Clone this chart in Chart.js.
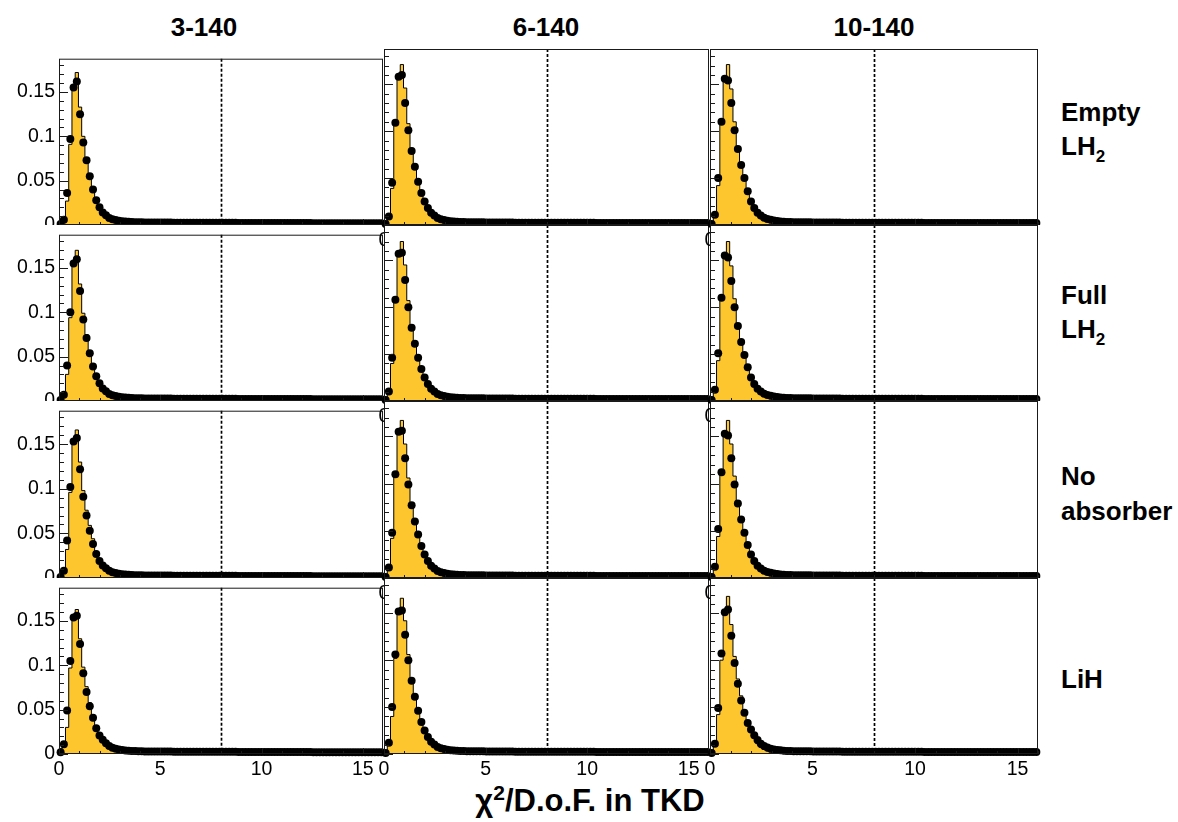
<!DOCTYPE html>
<html><head><meta charset="utf-8">
<script src="https://cdn.jsdelivr.net/npm/chart.js@4.4.1/dist/chart.umd.min.js"></script>
<style>
html,body{margin:0;padding:0;background:#fff;}
body{width:1178px;height:822px;position:relative;overflow:hidden;font-family:"Liberation Sans",Arial,sans-serif;}
canvas{position:absolute;}
.lbl{position:absolute;font-weight:bold;color:#000;white-space:nowrap;line-height:1;}
.ttl{font-size:26px;transform:translateX(-50%);}
.row{font-size:26px;left:1061px;}
.sub{font-size:17px;position:relative;top:7px;}
.axis{font-size:31px;transform:translateX(-50%);}
.sup{font-size:21px;position:relative;top:-11px;}
</style></head><body>
<div class="lbl ttl" style="left:204px;top:14px">3-140</div>
<div class="lbl ttl" style="left:546px;top:14px">6-140</div>
<div class="lbl ttl" style="left:874px;top:14px">10-140</div>
<div class="lbl row" style="top:99px">Empty</div>
<div class="lbl row" style="top:133px">LH<span class="sub">2</span></div>
<div class="lbl row" style="top:282px">Full</div>
<div class="lbl row" style="top:316px">LH<span class="sub">2</span></div>
<div class="lbl row" style="top:463px">No</div>
<div class="lbl row" style="top:498px">absorber</div>
<div class="lbl row" style="top:666px">LiH</div>
<div class="lbl axis" style="left:590px;top:784.8px">χ<span class="sup">2</span>/D.o.F. in TKD</div>
<script>
// ---- tick labels / categories ----
const columnTitles = ['3-140', '6-140', '10-140'];
const rowNames = ['Empty LH2', 'Full LH2', 'No absorber', 'LiH'];
const xTickValues = [0, 5, 10, 15];
const yTickValues = [0, 0.05, 0.1, 0.15];
const X_MIN = 0, X_MAX = 16, BIN_WIDTH = 0.16, Y_MAX = 0.1876;
const CUT_VALUE = 8;

// ---- series values (bins 0..25 per panel; data = points, mc = filled histogram) ----
const emptyData3  = [0.001,0.006,0.036,0.097,0.155,0.162,0.125,0.093,0.073,0.055,0.040,0.028,0.020,0.014,0.011,0.008,0.0065,0.0055,0.0048,0.0043,0.0039,0.0036,0.0034,0.0032,0.0031,0.003];
const emptyMC3    = [0.006,0.009,0.027,0.091,0.156,0.172,0.133,0.100,0.076,0.057,0.042,0.030,0.021,0.014,0.009,0.006,0.004,0.0026,0.0017,0.0011,0.0008,0.0006,0.0004,0.0003,0.0003,0.0002];
const emptyData6  = [0.001,0.009,0.045,0.109,0.158,0.160,0.130,0.101,0.079,0.062,0.046,0.034,0.025,0.018,0.013,0.010,0.0075,0.0062,0.0053,0.0046,0.0041,0.0037,0.0034,0.0032,0.0031,0.003];
const emptyMC6    = [0.004,0.011,0.039,0.107,0.160,0.171,0.146,0.108,0.082,0.063,0.047,0.035,0.025,0.017,0.011,0.007,0.0048,0.0032,0.0021,0.0014,0.001,0.0007,0.0005,0.0004,0.0003,0.0002];
const emptyData10 = [0.001,0.011,0.050,0.110,0.156,0.154,0.130,0.101,0.081,0.064,0.050,0.036,0.025,0.018,0.013,0.010,0.0078,0.0064,0.0055,0.0047,0.0042,0.0038,0.0035,0.0033,0.0031,0.003];
const emptyMC10   = [0.004,0.012,0.042,0.110,0.156,0.171,0.145,0.110,0.083,0.065,0.050,0.037,0.026,0.018,0.012,0.008,0.0052,0.0035,0.0023,0.0015,0.001,0.0007,0.0005,0.0004,0.0003,0.0002];

const fullData3   = [0.001,0.007,0.040,0.100,0.155,0.160,0.124,0.092,0.071,0.054,0.039,0.028,0.020,0.014,0.011,0.008,0.0065,0.0055,0.0048,0.0043,0.0039,0.0036,0.0034,0.0032,0.0031,0.003];
const fullMC3     = [0.006,0.010,0.030,0.094,0.157,0.170,0.132,0.099,0.075,0.056,0.041,0.029,0.020,0.013,0.009,0.006,0.004,0.0026,0.0017,0.0011,0.0008,0.0006,0.0004,0.0003,0.0003,0.0002];
const fullData6   = [0.001,0.010,0.046,0.108,0.157,0.158,0.129,0.100,0.078,0.061,0.046,0.034,0.025,0.018,0.013,0.010,0.0075,0.0062,0.0053,0.0046,0.0041,0.0037,0.0034,0.0032,0.0031,0.003];
const fullMC6     = [0.004,0.011,0.040,0.106,0.159,0.170,0.145,0.107,0.081,0.062,0.046,0.034,0.024,0.017,0.011,0.007,0.0048,0.0032,0.0021,0.0014,0.001,0.0007,0.0005,0.0004,0.0003,0.0002];
const fullData10  = [0.001,0.012,0.051,0.110,0.155,0.153,0.128,0.100,0.080,0.063,0.049,0.036,0.025,0.018,0.013,0.010,0.0078,0.0064,0.0055,0.0047,0.0042,0.0038,0.0035,0.0033,0.0031,0.003];
const fullMC10    = [0.004,0.013,0.043,0.110,0.155,0.170,0.144,0.109,0.082,0.064,0.049,0.036,0.026,0.018,0.012,0.008,0.0052,0.0035,0.0023,0.0015,0.001,0.0007,0.0005,0.0004,0.0003,0.0002];

const noAbsData3  = [0.001,0.008,0.042,0.102,0.153,0.157,0.122,0.091,0.070,0.053,0.038,0.027,0.019,0.014,0.011,0.008,0.0065,0.0055,0.0048,0.0043,0.0039,0.0036,0.0034,0.0032,0.0031,0.003];
const noAbsMC3    = [0.006,0.011,0.032,0.096,0.155,0.166,0.130,0.098,0.076,0.059,0.044,0.030,0.020,0.013,0.009,0.006,0.004,0.0026,0.0017,0.0011,0.0008,0.0006,0.0004,0.0003,0.0003,0.0002];
const noAbsData6  = [0.001,0.011,0.048,0.110,0.155,0.156,0.127,0.099,0.077,0.060,0.046,0.034,0.025,0.018,0.013,0.010,0.0075,0.0062,0.0053,0.0046,0.0041,0.0037,0.0034,0.0032,0.0031,0.003];
const noAbsMC6    = [0.004,0.012,0.042,0.108,0.157,0.167,0.142,0.106,0.080,0.062,0.046,0.034,0.024,0.017,0.011,0.007,0.0048,0.0032,0.0021,0.0014,0.001,0.0007,0.0005,0.0004,0.0003,0.0002];
const noAbsData10 = [0.001,0.012,0.052,0.112,0.153,0.151,0.127,0.099,0.079,0.062,0.048,0.035,0.025,0.018,0.013,0.010,0.0078,0.0064,0.0055,0.0047,0.0042,0.0038,0.0035,0.0033,0.0031,0.003];
const noAbsMC10   = [0.004,0.013,0.044,0.111,0.153,0.167,0.142,0.108,0.081,0.063,0.048,0.035,0.025,0.018,0.012,0.008,0.0052,0.0035,0.0023,0.0015,0.001,0.0007,0.0005,0.0004,0.0003,0.0002];

const lihData3    = [0.002,0.011,0.049,0.105,0.154,0.156,0.124,0.091,0.070,0.054,0.041,0.029,0.021,0.016,0.012,0.009,0.007,0.0058,0.005,0.0044,0.004,0.0037,0.0035,0.0033,0.0031,0.003];
const lihMC3      = [0.006,0.012,0.030,0.097,0.155,0.163,0.130,0.098,0.076,0.058,0.043,0.031,0.022,0.015,0.010,0.007,0.0045,0.003,0.002,0.0013,0.0009,0.0006,0.0004,0.0003,0.0003,0.0002];
const lihData6    = [0.001,0.012,0.050,0.106,0.152,0.153,0.127,0.100,0.078,0.061,0.046,0.034,0.025,0.018,0.013,0.010,0.0075,0.0062,0.0053,0.0046,0.0041,0.0037,0.0034,0.0032,0.0031,0.003];
const lihMC6      = [0.004,0.012,0.040,0.102,0.153,0.166,0.142,0.106,0.080,0.062,0.047,0.035,0.025,0.017,0.011,0.007,0.0048,0.0032,0.0021,0.0014,0.001,0.0007,0.0005,0.0004,0.0003,0.0002];
const lihData10   = [0.001,0.011,0.049,0.107,0.151,0.154,0.126,0.097,0.075,0.057,0.044,0.033,0.026,0.020,0.015,0.011,0.0085,0.0068,0.0057,0.0049,0.0043,0.0039,0.0035,0.0033,0.0031,0.003];
const lihMC10     = [0.004,0.012,0.042,0.100,0.150,0.168,0.138,0.104,0.080,0.062,0.047,0.035,0.025,0.017,0.011,0.007,0.0048,0.0032,0.0021,0.0014,0.001,0.0007,0.0005,0.0004,0.0003,0.0002];

// tails (bins 26..99), common to all panels
const tailData = [0.0029,0.0029,0.0028,0.0028,0.0028,0.0027,0.0027,0.0027,0.0027,0.0026,
  0.0026,0.0026,0.0026,0.0026,0.0025,0.0025,0.0025,0.0025,0.0025,0.0025,
  0.0025,0.0024,0.0024,0.0024,0.0024,0.0024,0.0024,0.0024,0.0024,0.0023,
  0.0023,0.0023,0.0023,0.0023,0.0023,0.0023,0.0023,0.0023,0.0023,0.0022,
  0.0022,0.0022,0.0022,0.0022,0.0022,0.0022,0.0022,0.0022,0.0022,0.0022,
  0.0022,0.0022,0.0021,0.0021,0.0021,0.0021,0.0021,0.0021,0.0021,0.0021,
  0.0021,0.0021,0.0021,0.0021,0.0021,0.0021,0.0021,0.0021,0.0021,0.0021,
  0.0021,0.0021,0.0021,0.0021];
const tailMC = [0.0002,0.0002,0.0002,0.0002,0.0002,0.00015,0.00015,0.00015,0.00015,0.00015,
  0.0001,0.0001,0.0001,0.0001,0.0001,0.0001,0.0001,0.0001,0.0001,0.0001,
  0.0001,0.0001,0.0001,0.0001,0.0001,0.0001,0.0001,0.0001,0.0001,0.0001,
  0.0001,0.0001,0.0001,0.0001,0.0001,0.0001,0.0001,0.0001,0.0001,0.0001,
  0.00005,0.00005,0.00005,0.00005,0.00005,0.00005,0.00005,0.00005,0.00005,0.00005,
  0.00005,0.00005,0.00005,0.00005,0.00005,0.00005,0.00005,0.00005,0.00005,0.00005,
  0.00005,0.00005,0.00005,0.00005,0.00005,0.00005,0.00005,0.00005,0.00005,0.00005,
  0.00005,0.00005,0.00005,0.00005];

// ---- layout ----
const colLeft = [59, 384, 710], colRight = [383, 709, 1038];
const rowTop = [49, 225, 401, 578], rowBottom = [225, 401, 578, 754];
const ML = 60, MR = 12, MT = 6, MB = 45;
const FONT = '"Liberation Sans", Arial, sans-serif';
const TICK_FONT_SIZE = 19.5;
const YELLOW = '#FDC62F';
const FRAME = '#1a1a1a';

const panelData = [
  [[emptyData3, emptyMC3], [emptyData6, emptyMC6], [emptyData10, emptyMC10]],
  [[fullData3, fullMC3], [fullData6, fullMC6], [fullData10, fullMC10]],
  [[noAbsData3, noAbsMC3], [noAbsData6, noAbsMC6], [noAbsData10, noAbsMC10]],
  [[lihData3, lihMC3], [lihData6, lihMC6], [lihData10, lihMC10]]
];

const panelPlugin = {
  id: 'panel',
  beforeDraw(chart, args, o) {
    const ctx = chart.ctx;
    ctx.save();
    ctx.fillStyle = '#fff';
    ctx.fillRect(o.x0, o.y0, o.x1 - o.x0, o.y1 - o.y0);
    ctx.restore();
  },
  afterDatasetsDraw(chart, args, o) {
    const ctx = chart.ctx, a = chart.chartArea, x = chart.scales.x, y = chart.scales.y;
    ctx.save();
    const xc = Math.round(x.getPixelForValue(CUT_VALUE)) + 0.5;
    ctx.strokeStyle = '#000';
    ctx.lineWidth = 1.7;
    ctx.setLineDash([3, 2]);
    ctx.beginPath(); ctx.moveTo(xc, a.top); ctx.lineTo(xc, a.bottom); ctx.stroke();
    ctx.setLineDash([]);
    ctx.lineWidth = 1;
    ctx.strokeStyle = FRAME;
    ctx.strokeRect(a.left + 0.5, a.top + 0.5, a.right - a.left - 1, a.bottom - a.top - 1);
    ctx.beginPath();
    for (let k = 0; k <= 18; k++) {
      const py = Math.round(y.getPixelForValue(k / 100)) + 0.5;
      const len = (k % 5 === 0) ? 9 : 5;
      ctx.moveTo(a.left, py); ctx.lineTo(a.left + len, py);
    }
    for (let k = 0; k <= 16; k++) {
      const px = Math.round(x.getPixelForValue(k)) + 0.5;
      const len = (k % 5 === 0) ? 6 : 3;
      ctx.moveTo(px, a.bottom); ctx.lineTo(px, a.bottom - len);
    }
    ctx.stroke();
    ctx.restore();
  }
};

function makePanel(r, c) {
  const plotW = colRight[c] - colLeft[c], plotH = rowBottom[r] - rowTop[r];
  const W = ML + plotW + MR, H = MT + plotH + MB;
  const cv = document.createElement('canvas');
  cv.width = W; cv.height = H;
  cv.style.left = (colLeft[c] - ML) + 'px';
  cv.style.top = (rowTop[r] - MT) + 'px';
  cv.style.width = W + 'px'; cv.style.height = H + 'px';
  document.body.appendChild(cv);

  const [dataHead, mcHead] = panelData[r][c];
  const dataAll = dataHead.concat(tailData);
  const mcAll = mcHead.concat(tailMC);
  const histPts = [{x: X_MIN, y: 0}].concat(mcAll.map((v, i) => ({x: X_MIN + i * BIN_WIDTH, y: v})));
  histPts.push({x: X_MAX, y: mcAll[mcAll.length - 1]});
  const dotPts = dataAll.map((v, i) => ({x: X_MIN + (i + 0.5) * BIN_WIDTH, y: v}));

  const pad = {
    x0: c === 0 ? 0 : ML,
    x1: c === 2 ? W : ML + plotW + 1,
    y0: r === 0 ? 0 : MT,
    y1: MT + plotH
  };

  new Chart(cv, {
    type: 'line',
    data: {
      datasets: [
        {type: 'scatter', data: dotPts, pointRadius: 4, pointHoverRadius: 4,
         pointBackgroundColor: '#000', pointBorderWidth: 0, showLine: false, clip: false, order: 0},
        {type: 'line', data: histPts, stepped: 'before', fill: 'origin', backgroundColor: YELLOW,
         borderColor: '#000', borderWidth: 1, pointRadius: 0, pointHoverRadius: 0, tension: 0, order: 1}
      ]
    },
    options: {
      responsive: false, maintainAspectRatio: false, animation: false, devicePixelRatio: 1, events: [],
      layout: {padding: {top: MT, right: MR, left: 0, bottom: 0}},
      plugins: {legend: {display: false}, tooltip: {enabled: false}, panel: pad},
      scales: {
        x: {
          type: 'linear', min: X_MIN, max: X_MAX,
          grid: {display: false, drawTicks: false}, border: {display: false},
          ticks: {display: true, font: {family: FONT, size: TICK_FONT_SIZE}, color: '#000', padding: 4,
                  maxRotation: 0, autoSkip: false, callback: v => String(v)},
          afterBuildTicks: s => { s.ticks = xTickValues.map(v => ({value: v})); },
          afterFit: s => { s.height = MB; }
        },
        y: {
          type: 'linear', min: 0, max: Y_MAX,
          grid: {display: false, drawTicks: false}, border: {display: false},
          ticks: {display: c === 0, font: {family: FONT, size: TICK_FONT_SIZE}, color: '#000', padding: 4,
                  autoSkip: false, callback: v => String(v)},
          afterBuildTicks: s => { s.ticks = yTickValues.map(v => ({value: v})); },
          afterFit: s => { s.width = ML; }
        }
      }
    },
    plugins: [panelPlugin]
  });
}

// column-major drawing order (like the original pads)
for (let c = 0; c < 3; c++) {
  for (let r = 0; r < 4; r++) makePanel(r, c);
}
</script>
</body></html>
